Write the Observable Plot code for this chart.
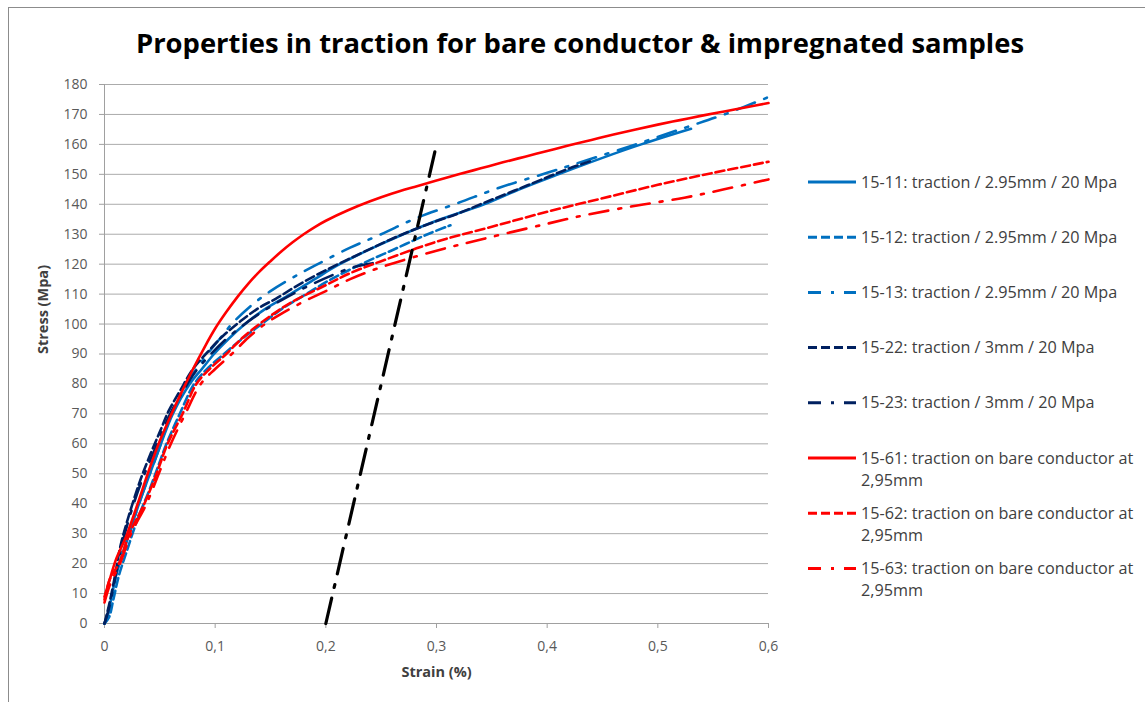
<!DOCTYPE html>
<html><head><meta charset="utf-8">
<script src="https://cdn.jsdelivr.net/npm/d3@7"></script>
<script src="https://cdn.jsdelivr.net/npm/@observablehq/plot@0.6"></script>
<style>
body{margin:0;background:#fff;font-family:"Open Sans",Lato,sans-serif;}
#wrap{position:relative;width:1145px;height:702px;overflow:hidden;background:#fff;}
#frame{position:absolute;left:8px;top:7px;width:1200px;height:800px;border:1px solid #8c8c8c;}
#title{position:absolute;left:0;top:25px;width:1160px;text-align:center;font-weight:700;font-size:27.4px;line-height:36px;color:#000;white-space:nowrap;}
#chart{position:absolute;left:0;top:0;}
#legend{position:absolute;left:0;top:0;}
</style></head><body>
<div id="wrap">
  <div id="frame"></div>
  <div id="title">Properties in traction for bare conductor &amp; impregnated samples</div>
  <div id="chart"></div>
  <svg id="legend" width="1145" height="702"></svg>
</div>
<script>
// ---------- data (strain %, stress MPa) ----------
const s15_11 = [[0,0],[0.003,3],[0.007,10],[0.011,17],[0.016,23],[0.024,32],[0.033,42],[0.042,51],[0.051,60],[0.0617,70],[0.077,80],[0.088,85],[0.099,90],[0.112,95],[0.127,100],[0.145,105],[0.168,110],[0.19,115],[0.21,119.5],[0.24,125],[0.27,130],[0.3,134.5],[0.343,140],[0.375,145],[0.41,150],[0.45,155.5],[0.485,160],[0.53,165.2]];
const s15_12 = [[0,0],[0.004,2],[0.008,8],[0.013,16],[0.02,24],[0.03,35],[0.04,44],[0.048,52],[0.056,60],[0.068,70],[0.081,80],[0.094,85.5],[0.108,90],[0.124,95],[0.142,100],[0.16,105],[0.18,109.5],[0.205,115],[0.232,120],[0.262,125],[0.292,130],[0.3126,133]];
const s15_13 = [[0,0],[0.003,3],[0.007,10],[0.011,17],[0.017,24],[0.025,33],[0.034,43],[0.042,51],[0.05,59],[0.06,70],[0.074,80],[0.083,85],[0.093,90],[0.104,95],[0.115,100],[0.132,106],[0.15,111],[0.17,115.5],[0.19,119.5],[0.222,125.5],[0.25,130],[0.2825,135.5],[0.32,140.5],[0.358,145.7],[0.4,150.5],[0.433,154.4],[0.48,160],[0.524,165.5],[0.56,170],[0.6,175.8]];
const s15_22 = [[0,0],[0.004,6],[0.009,15],[0.0145,26],[0.022,36],[0.0325,48],[0.042,57],[0.0506,64.5],[0.058,71],[0.0687,78],[0.08,85],[0.0928,90.5],[0.107,96],[0.123,101],[0.14,105.5],[0.155,108.5],[0.175,113],[0.2,118],[0.231,123.5],[0.26,128.5],[0.29,133],[0.32,137],[0.343,140.5],[0.37,144.5],[0.4,149],[0.42,152],[0.44,154.5]];
const s15_23 = [[0,0],[0.004,5],[0.009,14],[0.015,25],[0.023,36],[0.033,47],[0.043,56],[0.052,64],[0.06,70.5],[0.07,77],[0.082,84],[0.095,89.5],[0.11,95],[0.125,99.5],[0.14,103.5],[0.16,108],[0.183,112.5],[0.207,116.5],[0.225,119],[0.245,120.5]];
const s15_61 = [[0,9],[0.005,15],[0.01,21],[0.02,29.5],[0.03,40],[0.04,51],[0.05,61],[0.06,69.5],[0.07,77.5],[0.08,85],[0.09,92],[0.1,98.5],[0.11,104],[0.12,109],[0.13,113.5],[0.14,117.5],[0.15,121],[0.16,124.3],[0.17,127.3],[0.18,130],[0.19,132.4],[0.2,134.5],[0.22,138],[0.24,141],[0.26,143.6],[0.28,145.8],[0.3,147.9],[0.32,150],[0.34,152],[0.36,154],[0.38,155.9],[0.4,157.8],[0.42,159.7],[0.44,161.5],[0.46,163.3],[0.48,165],[0.5,166.6],[0.52,168.1],[0.54,169.6],[0.56,171],[0.58,172.4],[0.6,173.8]];
const s15_62 = [[0,8],[0.005,15],[0.013,20],[0.0226,30],[0.036,40],[0.047,50],[0.057,60],[0.0705,70],[0.083,80],[0.095,85],[0.11,90],[0.125,95.5],[0.14,100],[0.155,104],[0.17,107.5],[0.2,113],[0.222,117],[0.25,121],[0.3,127.5],[0.35,132.5],[0.4,137.5],[0.45,142],[0.5,146.5],[0.55,150.5],[0.6,154.2]];
const s15_63 = [[0,7],[0.005,13],[0.014,20],[0.024,30],[0.038,40],[0.049,50],[0.06,60],[0.073,70],[0.087,80],[0.1,85],[0.115,90],[0.13,95.5],[0.145,100],[0.16,103.5],[0.18,107.5],[0.2,111],[0.222,115],[0.25,119],[0.3,124.5],[0.343,128.5],[0.4,133.5],[0.433,136.3],[0.48,139.5],[0.524,142.2],[0.56,145],[0.6,148.3]];
const offsetLine = [[0.2,0],[0.2985,157.5]];

const seriesNames = [
  "15-11: traction / 2.95mm / 20 Mpa",
  "15-12: traction / 2.95mm / 20 Mpa",
  "15-13: traction / 2.95mm / 20 Mpa",
  "15-22: traction / 3mm / 20 Mpa",
  "15-23: traction / 3mm / 20 Mpa",
  "15-61: traction on bare conductor at\n2,95mm",
  "15-62: traction on bare conductor at\n2,95mm",
  "15-63: traction on bare conductor at\n2,95mm"
];
const seriesData = [s15_11, s15_12, s15_13, s15_22, s15_23, s15_61, s15_62, s15_63];
const xTicks = [0, 0.1, 0.2, 0.3, 0.4, 0.5, 0.6];
const yTicks = [0,10,20,30,40,50,60,70,80,90,100,110,120,130,140,150,160,170,180];

// ---------- styles ----------
const BLUE = "#0070C0", NAVY = "#002060", RED = "#FF0000";
const seriesColors = [BLUE, BLUE, BLUE, NAVY, NAVY, RED, RED, RED];
const DASH = "9,4", DASHDOT = "19,10,3,10";
const seriesDash = [null, DASH, DASHDOT, DASH, DASHDOT, null, DASH, DASHDOT];
const legendDash = [null, "9,4", "13,10,3,10", "9,4", "13,10,3,10", null, "9,4", "13,10,3,10"];

const FONT = "'Open Sans', Lato, sans-serif";
const lineMarks = seriesData.map((d, i) => Plot.line(d, {
  x: p => p[0], y: p => p[1],
  stroke: seriesColors[i], strokeWidth: 2.6,
  strokeDasharray: seriesDash[i] || undefined,
  curve: "catmull-rom", strokeLinejoin: "round"
}));

const chart = Plot.plot({
  width: 1145, height: 702,
  marginLeft: 104, marginRight: 377, marginTop: 84, marginBottom: 79,
  style: {fontFamily: FONT, background: "transparent", overflow: "visible"},
  x: {domain: [0, 0.6]},
  y: {domain: [0, 180]},
  marks: [
    Plot.gridY(yTicks, {stroke: "#ababab", strokeOpacity: 1, strokeWidth: 1}),
    Plot.ruleX([0], {stroke: "#a0a0a0", strokeWidth: 1}),
    Plot.ruleY([0], {stroke: "#a0a0a0", strokeWidth: 1}),
    Plot.axisY(yTicks, {tickSize: 5, tickPadding: 12, fontSize: 14, fill: "#595959", stroke: "#a0a0a0", label: null}),
    Plot.axisX(xTicks, {tickSize: 5, tickPadding: 13, fontSize: 14, fill: "#595959", stroke: "#a0a0a0", label: null,
      tickFormat: d => d === 0 ? "0" : String(d).replace(".", ",")}),
    ...lineMarks,
    Plot.line(offsetLine, {x: p => p[0], y: p => p[1], stroke: "#000", strokeWidth: 3.2, strokeDasharray: "26,11,3,11"}),
    Plot.text(["Strain (%)"], {text: d => d, frameAnchor: "bottom", dy: 53, fontWeight: "bold", fontSize: 14.5, fill: "#404040"}),
    Plot.text(["Stress (Mpa)"], {text: d => d, frameAnchor: "left", dx: -61, rotate: -90, fontWeight: "bold", fontSize: 14.5, fill: "#404040"})
  ]
});
document.getElementById("chart").appendChild(chart);

// ---------- legend ----------
const leg = d3.select("#legend");
const legX0 = 808, legX1 = 856, legTextX = 861, legY0 = 182, legStep = 55.2, legLine = 22;
seriesNames.forEach((name, i) => {
  const y = legY0 + i * legStep;
  leg.append("line").attr("x1", legX0).attr("x2", legX1).attr("y1", y).attr("y2", y)
    .attr("stroke", seriesColors[i]).attr("stroke-width", 3)
    .attr("stroke-dasharray", legendDash[i]);
  const t = leg.append("text").attr("x", legTextX).attr("y", y)
    .attr("font-family", FONT).attr("font-size", 16.2).attr("fill", "#404040");
  name.split("\n").forEach((ln, j) => {
    t.append("tspan").attr("x", legTextX).attr("y", y + j * legLine).attr("dy", "0.35em").text(ln);
  });
});
</script>
</body></html>
